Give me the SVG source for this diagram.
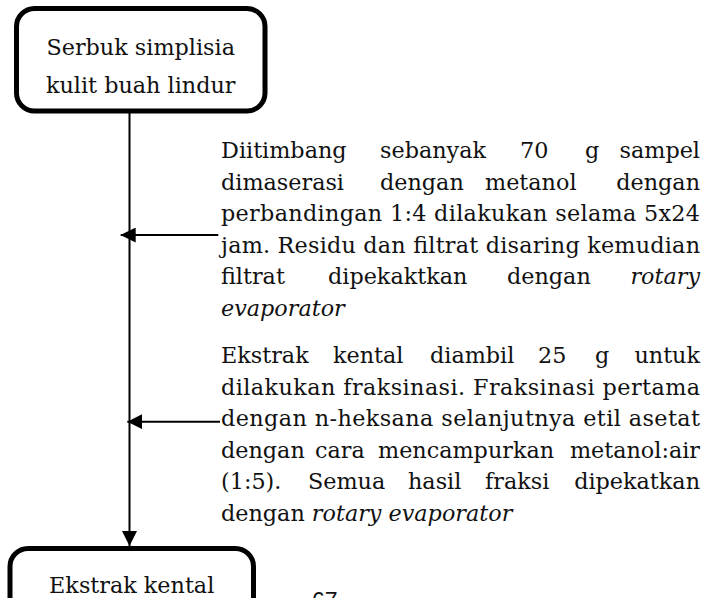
<svg xmlns="http://www.w3.org/2000/svg" width="708" height="598" viewBox="0 0 708 598">
  <style>
    .box { fill: #fff; stroke: #000; stroke-width: 5; }
    .conn { stroke: #000; stroke-width: 2; fill: none; }
    .t { font-family: "DejaVu Serif", "Liberation Serif", serif; font-size: 22.3px; fill: #111; }
    .c { text-anchor: middle; }
    .e { text-anchor: end; }
    .i { font-style: italic; }
    .pg { font-family: "Liberation Sans", Arial, sans-serif; font-size: 23px; fill: #111; }
  </style>
  <defs>
    <marker id="ah" markerUnits="userSpaceOnUse" markerWidth="15" markerHeight="15" viewBox="0 0 15 15" refX="15" refY="7.5" orient="auto">
      <path d="M0,0 L15,7.5 L0,15 Z" fill="#000"/>
    </marker>
  </defs>
  <rect width="708" height="598" fill="#fff"/>

  <g id="connectors">
    <line class="conn" x1="129.5" y1="111" x2="129.5" y2="546" marker-end="url(#ah)"/>
    <line class="conn" x1="218.3" y1="235" x2="120.7" y2="235" marker-end="url(#ah)"/>
    <line class="conn" x1="220" y1="421.7" x2="127.3" y2="421.7" marker-end="url(#ah)"/>
  </g>

  <g id="node-serbuk">
    <rect class="box" x="16.5" y="8.5" width="248.5" height="102.5" rx="18" ry="18"/>
    <text class="t c" x="140.7" y="55">Serbuk simplisia</text>
    <text class="t c" x="140.7" y="93">kulit buah lindur</text>
  </g>

  <g id="note-maserasi">
    <text class="t" y="158"><tspan x="221">Diitimbang</tspan><tspan x="380">sebanyak</tspan><tspan x="520">70</tspan><tspan x="585">g</tspan></text>
    <text class="t e" x="700" y="158">sampel</text>
    <text class="t" y="189.5"><tspan x="221">dimaserasi</tspan><tspan x="380">dengan</tspan><tspan x="485">metanol</tspan></text>
    <text class="t e" x="700" y="189.5">dengan</text>
    <text class="t" x="221" y="221" textLength="479" lengthAdjust="spacing">perbandingan 1:4 dilakukan selama 5x24</text>
    <text class="t" x="221" y="252.5" textLength="479" lengthAdjust="spacing">jam. Residu dan filtrat disaring kemudian</text>
    <text class="t" y="284"><tspan x="221">filtrat</tspan><tspan x="328">dipekaktkan</tspan><tspan x="507">dengan</tspan></text>
    <text class="t e i" x="700" y="284">rotary</text>
    <text class="t i" x="221" y="315.5">evaporator</text>
  </g>

  <g id="note-fraksinasi">
    <text class="t" y="363"><tspan x="221">Ekstrak</tspan><tspan x="333">kental</tspan><tspan x="430">diambil</tspan><tspan x="538">25</tspan><tspan x="595">g</tspan></text>
    <text class="t e" x="700" y="363">untuk</text>
    <text class="t" x="221" y="394.5" textLength="479" lengthAdjust="spacing">dilakukan fraksinasi. Fraksinasi pertama</text>
    <text class="t" x="221" y="426" textLength="479" lengthAdjust="spacing">dengan n-heksana selanjutnya etil asetat</text>
    <text class="t" y="457.5"><tspan x="221">dengan</tspan><tspan x="315">cara</tspan><tspan x="378">mencampurkan</tspan></text>
    <text class="t e" x="700" y="457.5">metanol:air</text>
    <text class="t" y="489"><tspan x="221">(1:5).</tspan><tspan x="308">Semua</tspan><tspan x="408">hasil</tspan><tspan x="485">fraksi</tspan></text>
    <text class="t e" x="700" y="489">dipekatkan</text>
    <text class="t" x="221" y="520.5">dengan <tspan class="i">rotary evaporator</tspan></text>
  </g>

  <g id="node-ekstrak">
    <rect class="box" x="10" y="548.5" width="243.5" height="90" rx="18" ry="18"/>
    <text class="t c" x="131.7" y="593">Ekstrak kental</text>
  </g>

  <text class="pg" x="312" y="609">67</text>
</svg>
